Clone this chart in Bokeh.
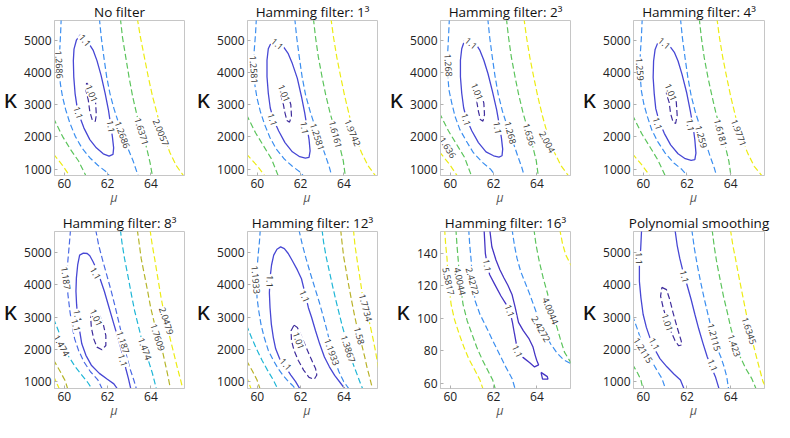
import math
from bokeh.plotting import figure
from bokeh.layouts import gridplot
from bokeh.models import Range1d, FixedTicker, LinearAxis
from bokeh.core.properties import value
from bokeh.embed import file_html
from bokeh.resources import INLINE

# ---------------- data ----------------
TITLES = ["No filter", "Hamming filter: 1³", "Hamming filter: 2³", "Hamming filter: 4³",
          "Hamming filter: 8³", "Hamming filter: 12³", "Hamming filter: 16³", "Polynomial smoothing"]
X_LABEL = "μ"
Y_LABEL = "κ"
X_TICKS = [60, 62, 64]
Y_TICKS = [1000, 2000, 3000, 4000, 5000]
Y_TICKS_16 = [60, 80, 100, 120, 140]
MU_RANGE = (59.55, 65.55)
KAPPA_RANGE_ROW1 = (800, 5630)
KAPPA_RANGE_ROW2 = (786, 5661)
KAPPA_RANGE_16 = (56.8, 153.4)

# Panel 1: No filter
P1_LEVEL = ["1.01", "1.1", "1.2686", "1.2686", "1.6371", "1.6371", "2.0057", "2.0057"]
P1_MU = [
    [61.03, 61.33, 61.45, 61.48, 61.43, 61.30, 61.18, 61.11, 61.00, 61.03],
    [60.74, 60.56, 60.45, 60.42, 60.44, 60.50, 60.59, 60.74, 60.91, 61.18, 61.48, 61.80, 62.07, 62.25, 62.28,
     62.22, 62.13, 62.04, 61.89, 61.70, 61.51, 61.33, 61.11, 60.91, 60.74],
    [59.86, 59.83, 59.79, 59.77, 59.82, 59.92, 60.07, 60.26, 60.51, 60.81, 61.18, 61.55, 61.92, 62.14],
    [61.62, 61.71, 61.83, 61.96, 62.11, 62.29, 62.51, 62.73, 62.96, 63.18, 63.43],
    [62.59, 62.69, 62.84, 62.99, 63.16, 63.37, 63.62, 63.82, 63.96, 64.08],
    [59.50, 59.92, 60.29, 60.66, 61.03],
    [63.37, 63.52, 63.70, 63.88, 64.08, 64.32, 64.59, 64.88, 65.18, 65.55],
    [59.50, 59.92, 60.29],
]
P1_KAPPA = [
    [3682, 3456, 3046, 2687, 2482, 2513, 2790, 3149, 3456, 3682],
    [5179, 5015, 4738, 4379, 3867, 3354, 2944, 2585, 2277, 1918, 1662, 1477, 1405, 1456, 1662,
     2020, 2431, 2841, 3354, 3918, 4379, 4708, 4943, 5118, 5179],
    [5700, 5200, 4687, 4174, 3661, 3251, 2841, 2431, 2020, 1662, 1354, 1118, 923, 750],
    [5700, 5097, 4482, 3867, 3354, 2892, 2431, 2020, 1610, 1251, 750],
    [5700, 5097, 4482, 3867, 3251, 2636, 2123, 1610, 1200, 750],
    [2591, 2020, 1610, 1251, 750],
    [5700, 5097, 4482, 3867, 3251, 2636, 2020, 1508, 1097, 750],
    [1473, 1118, 750],
]
P1_LABEL = ["1.1", "1.1", "1.1", "1.01", "1.2686", "1.2686", "1.6371", "2.0057"]
P1_LABEL_MU = [60.96, 60.66, 62.16, 61.27, 59.77, 62.69, 63.58, 64.47]
P1_LABEL_KAPPA = [5015, 2759, 2328, 3354, 4256, 2072, 2174, 2143]
P1_LABEL_ANGLE = [-50, -72, -82, -68, -87, -70, -73, -68]

# Panel 2: Hamming 1^3
P2_LEVEL = ["1.01", "1.1", "1.2581", "1.2581", "1.6161", "1.6161", "1.9742", "1.9742"]
P2_MU = [
    [61.08, 61.40, 61.55, 61.58, 61.49, 61.37, 61.28, 61.18, 61.05, 61.08],
    [60.63, 60.51, 60.45, 60.45, 60.51, 60.60, 60.74, 60.99, 61.28, 61.62, 61.96, 62.22, 62.39, 62.44, 62.39,
     62.29, 62.19, 62.04, 61.85, 61.62, 61.43, 61.22, 60.99, 60.78, 60.63],
    [59.96, 59.92, 59.86, 59.85, 59.89, 59.99, 60.14, 60.34, 60.59, 60.88, 61.25, 61.62, 61.99, 62.17],
    [61.73, 61.82, 61.94, 62.07, 62.23, 62.44, 62.66, 62.91, 63.15, 63.33, 63.45],
    [62.59, 62.69, 62.82, 62.99, 63.16, 63.36, 63.58, 63.80, 63.97, 64.07],
    [59.50, 59.92, 60.29, 60.66, 60.99],
    [63.40, 63.52, 63.67, 63.85, 64.04, 64.26, 64.51, 64.81, 65.11, 65.50],
    [59.50, 59.99, 60.39],
]
P2_KAPPA = [
    [3549, 3364, 3005, 2646, 2462, 2513, 2749, 3108, 3385, 3549],
    [4923, 4749, 4390, 3877, 3364, 2903, 2564, 2185, 1826, 1538, 1385, 1344, 1364, 1569, 1928,
     2338, 2749, 3262, 3826, 4287, 4595, 4800, 4903, 4943, 4923],
    [5700, 5210, 4697, 4082, 3621, 3210, 2800, 2390, 1979, 1620, 1313, 1087, 903, 750],
    [5700, 5108, 4492, 3877, 3313, 2800, 2338, 1877, 1415, 1056, 750],
    [5700, 5108, 4492, 3877, 3313, 2749, 2236, 1723, 1262, 750],
    [2700, 2133, 1723, 1313, 750],
    [5700, 5108, 4492, 3877, 3262, 2646, 2031, 1518, 1108, 750],
    [1470, 1108, 750],
]
P2_LABEL = ["1.1", "1.1", "1.1", "1.01", "1.2581", "1.2581", "1.6161", "1.9742"]
P2_LABEL_MU = [60.93, 60.71, 62.19, 61.25, 59.85, 62.78, 63.62, 64.41]
P2_LABEL_KAPPA = [4903, 2544, 2287, 3364, 4102, 2010, 2082, 2133]
P2_LABEL_ANGLE = [-40, -72, -82, -68, -86, -72, -75, -68]

# Panel 3: Hamming 2^3
P3_LEVEL = ["1.01", "1.1", "1.268", "1.268", "1.636", "1.636", "2.004", "2.004"]
P3_MU = [
    [61.11, 61.40, 61.55, 61.58, 61.51, 61.39, 61.30, 61.21, 61.08, 61.11],
    [60.66, 60.53, 60.47, 60.47, 60.53, 60.62, 60.76, 61.00, 61.30, 61.65, 62.00, 62.25, 62.39, 62.42,
     62.36, 62.26, 62.14, 61.95, 61.74, 61.55, 61.37, 61.18, 60.96, 60.66],
    [59.96, 59.92, 59.88, 59.88, 59.94, 60.07, 60.22, 60.44, 60.74, 61.06, 61.48, 61.85, 62.14],
    [61.73, 61.82, 61.94, 62.07, 62.22, 62.41, 62.63, 62.88, 63.11, 63.30, 63.43],
    [62.59, 62.69, 62.82, 62.99, 63.16, 63.36, 63.58, 63.80, 63.97, 64.07],
    [59.50, 59.92, 60.29, 60.66, 61.00],
    [63.40, 63.52, 63.67, 63.85, 64.04, 64.26, 64.51, 64.81, 65.11, 65.50],
    [59.50, 59.99, 60.36],
]
P3_KAPPA = [
    [3569, 3415, 3056, 2697, 2492, 2544, 2800, 3159, 3415, 3569],
    [5005, 4749, 4390, 3877, 3364, 2903, 2544, 2185, 1826, 1538, 1415, 1374, 1415, 1620,
     1979, 2390, 2851, 3415, 3979, 4390, 4697, 4903, 4985, 5005],
    [5700, 5108, 4595, 3979, 3467, 3056, 2646, 2236, 1877, 1518, 1210, 1005, 750],
    [5700, 5108, 4492, 3877, 3313, 2800, 2338, 1877, 1415, 1056, 750],
    [5700, 5108, 4492, 3877, 3313, 2749, 2236, 1723, 1262, 750],
    [2750, 2185, 1774, 1364, 750],
    [5700, 5108, 4492, 3877, 3262, 2646, 2031, 1518, 1108, 750],
    [1540, 1128, 750],
]
P3_LABEL = ["1.1", "1.1", "1.1", "1.01", "1.268", "1.268", "1.636", "1.636", "2.004"]
P3_LABEL_MU = [60.96, 60.74, 62.19, 61.25, 59.92, 62.78, 63.65, 59.89, 64.48]
P3_LABEL_KAPPA = [4923, 2544, 2287, 3415, 4236, 2133, 2082, 1672, 1846]
P3_LABEL_ANGLE = [-40, -72, -82, -68, -86, -75, -73, -58, -62]

# Panel 4: Hamming 4^3
P4_LEVEL = ["1.01", "1.1", "1.259", "1.259", "1.6181", "1.6181", "1.9771", "1.9771"]
P4_MU = [
    [61.08, 61.36, 61.51, 61.55, 61.48, 61.36, 61.25, 61.18, 61.06, 61.08],
    [60.66, 60.54, 60.47, 60.45, 60.50, 60.57, 60.71, 60.96, 61.25, 61.59, 61.92, 62.19, 62.36, 62.41,
     62.36, 62.28, 62.16, 61.98, 61.77, 61.59, 61.43, 61.21, 60.96, 60.66],
    [59.95, 59.91, 59.86, 59.85, 59.91, 60.02, 60.19, 60.39, 60.66, 61.00, 61.40, 61.77, 62.07],
    [61.70, 61.79, 61.91, 62.04, 62.19, 62.38, 62.60, 62.84, 63.06, 63.25, 63.37],
    [62.56, 62.66, 62.79, 62.96, 63.14, 63.33, 63.55, 63.76, 63.92, 64.02],
    [59.50, 59.92, 60.29, 60.66, 61.03],
    [63.37, 63.49, 63.64, 63.82, 64.01, 64.23, 64.48, 64.78, 65.08, 65.48],
    [59.50, 59.96, 60.34],
]
P4_KAPPA = [
    [3569, 3426, 3087, 2677, 2420, 2472, 2728, 3087, 3344, 3569],
    [4933, 4728, 4369, 3856, 3344, 2882, 2523, 2113, 1754, 1477, 1323, 1272, 1292, 1497,
     1908, 2318, 2779, 3395, 3959, 4369, 4626, 4831, 4923, 4933],
    [5700, 5087, 4574, 3959, 3446, 3036, 2626, 2215, 1856, 1497, 1190, 985, 750],
    [5700, 5087, 4472, 3856, 3292, 2779, 2318, 1856, 1395, 1036, 750],
    [5700, 5087, 4472, 3856, 3292, 2728, 2215, 1703, 1241, 750],
    [2690, 2113, 1703, 1292, 750],
    [5700, 5087, 4472, 3856, 3241, 2626, 2010, 1497, 1087, 750],
    [1480, 1108, 750],
]
P4_LABEL = ["1.1", "1.1", "1.1", "1.01", "1.259", "1.259", "1.6181", "1.9771"]
P4_LABEL_MU = [60.96, 60.66, 62.16, 61.27, 59.85, 62.66, 63.55, 64.38]
P4_LABEL_KAPPA = [4923, 2420, 2369, 3395, 4113, 2010, 2133, 2133]
P4_LABEL_ANGLE = [-40, -72, -82, -68, -86, -75, -75, -70]

# Panel 5: Hamming 8^3
P5_LEVEL = ["1.01", "1.1", "1.187", "1.187", "1.474", "1.474", "1.7609", "1.7609", "2.0479", "2.0479"]
P5_MU = [
    [61.33, 61.62, 61.80, 61.92, 61.92, 61.74, 61.51, 61.36, 61.25, 61.22, 61.33],
    [62.48, 62.29, 61.99, 61.62, 61.25, 61.00, 60.81, 60.71, 60.62, 60.57, 60.54, 60.56, 60.62, 60.71, 60.88,
     61.06, 61.18, 61.33, 61.51, 61.67, 61.85, 62.07, 62.29, 62.47, 62.62, 62.74, 62.84, 62.96, 63.08],
    [60.29, 60.23, 60.17, 60.11, 60.17, 60.26, 60.36, 60.48, 60.66, 60.91, 61.21, 61.55, 61.77],
    [61.45, 61.59, 61.77, 61.96, 62.17, 62.36, 62.54, 62.72, 62.87, 63.03, 63.21, 63.34],
    [62.59, 62.66, 62.78, 62.93, 63.10, 63.25, 63.40, 63.55, 63.88, 64.07, 64.26],
    [59.50, 59.73, 59.92, 60.22, 60.51, 60.81, 61.11, 61.30],
    [63.37, 63.45, 63.55, 63.70, 63.85, 63.99, 64.17, 64.56, 64.66, 64.76, 64.91],
    [59.50, 59.82, 60.04, 60.17],
    [63.96, 64.04, 64.17, 64.32, 64.47, 64.59, 64.91, 65.06, 65.21, 65.37, 65.48],
    [59.50, 59.79],
]
P5_KAPPA = [
    [3213, 3071, 2785, 2428, 2122, 1989, 2071, 2326, 2683, 2989, 3213],
    [750, 929, 1071, 1255, 1510, 1816, 2173, 2581, 2989, 3397, 3805, 4213, 4621, 4927, 4988,
     4978, 4907, 4723, 4468, 4162, 3805, 3295, 2785, 2377, 2020, 1714, 1408, 1102, 750],
    [5720, 5233, 4774, 4213, 3703, 3193, 2734, 2326, 1969, 1612, 1306, 1051, 750],
    [5720, 5233, 4774, 4315, 3805, 3295, 2785, 2275, 1816, 1408, 1051, 750],
    [5720, 5335, 4825, 4315, 3703, 3193, 2785, 2377, 1663, 1255, 750],
    [2960, 2581, 2173, 1765, 1459, 1204, 949, 750],
    [5720, 5335, 4825, 4315, 3805, 3295, 2785, 1867, 1561, 1255, 750],
    [1680, 1306, 1031, 750],
    [5720, 5335, 4825, 4213, 3601, 3193, 2275, 1867, 1459, 1051, 750],
    [1180, 750],
]
P5_LABEL = ["1.187", "1.1", "1.1", "1.1", "1.01", "1.187", "1.1", "1.474", "1.474", "1.7609", "2.0479"]
P5_LABEL_MU = [60.08, 61.45, 60.63, 60.54, 61.48, 62.72, 62.71, 63.73, 59.88, 64.32, 64.72]
P5_LABEL_KAPPA = [4213, 4366, 3040, 2754, 2989, 2224, 1663, 2020, 2122, 2377, 2887]
P5_LABEL_ANGLE = [-82, -60, -80, -75, -65, -72, -72, -70, -60, -72, -72]

# Panel 6: Hamming 12^3
P6_LEVEL = ["1.01", "1.1", "1.1933", "1.1933", "1.3867", "1.3867", "1.58", "1.58", "1.7734", "1.7734"]
P6_MU = [
    [61.70, 61.85, 61.99, 62.22, 62.48, 62.69, 62.75, 62.63, 62.39, 62.14, 61.89, 61.70, 61.58, 61.56, 61.70],
    [61.99, 61.77, 61.55, 61.30, 61.03, 60.85, 60.74, 60.65, 60.59, 60.56, 60.59, 60.66, 60.76, 60.91, 61.08,
     61.25, 61.43, 61.62, 61.85, 62.04, 62.22, 62.36, 62.51, 62.69, 62.88, 63.10, 63.33, 63.58, 63.85, 64.07],
    [60.14, 60.10, 60.04, 59.96, 59.99, 60.07, 60.17, 60.32, 60.51, 60.74, 60.96, 61.18, 61.40, 61.62, 61.80],
    [61.92, 62.07, 62.25, 62.45, 62.66, 62.87, 63.06, 63.22, 63.37, 63.55, 63.77, 63.99, 64.26],
    [62.99, 63.06, 63.18, 63.33, 63.48, 63.62, 63.77, 63.92, 64.07, 64.36, 64.59, 64.76, 64.88],
    [59.50, 59.73, 59.96, 60.22, 60.47, 60.74, 60.96],
    [63.85, 63.91, 63.99, 64.11, 64.23, 64.36, 64.48, 64.59, 64.85, 64.96, 65.06, 65.18, 65.33],
    [59.50, 59.77, 59.99, 60.14],
    [64.44, 64.51, 64.62, 64.74, 64.85, 65.18, 65.33, 65.45, 65.60],
    [59.50, 59.73],
]
P6_KAPPA = [
    [2754, 2683, 2479, 2122, 1714, 1408, 1204, 1071, 1133, 1357, 1663, 1969, 2275, 2581, 2754],
    [750, 1000, 1204, 1459, 1714, 2020, 2377, 2785, 3295, 3754, 4213, 4621, 4927, 5111, 5182,
     5131, 4978, 4754, 4468, 4193, 3703, 3295, 2989, 2581, 2173, 1765, 1459, 1184, 949, 750],
    [5720, 5335, 4927, 4213, 3601, 3193, 2785, 2377, 1969, 1663, 1408, 1204, 1031, 888, 750],
    [5720, 5284, 4825, 4366, 3907, 3448, 2989, 2581, 2173, 1714, 1306, 1000, 750],
    [5720, 5335, 4876, 4417, 3958, 3550, 3142, 2734, 2377, 1663, 1255, 949, 750],
    [2760, 2377, 2020, 1663, 1357, 1051, 750],
    [5720, 5335, 4876, 4417, 3958, 3499, 3091, 2734, 2071, 1765, 1459, 1153, 750],
    [1660, 1337, 1051, 750],
    [5720, 5233, 4723, 4213, 3703, 2836, 2377, 1969, 1400],
    [1160, 750],
]
P6_LABEL = ["1.1933", "1.1", "1.1", "1.01", "1.1", "1.1933", "1.3867", "1.58", "1.7734"]
P6_LABEL_MU = [59.94, 60.59, 62.19, 61.92, 61.32, 63.45, 64.20, 64.72, 65.01]
P6_LABEL_KAPPA = [4162, 4111, 3652, 2275, 1541, 1918, 2020, 2428, 3295]
P6_LABEL_ANGLE = [-85, -92, -68, -70, -48, -70, -72, -75, -75]

# Panel 7: Hamming 16^3 (kappa 60..140)
P7_LEVEL = ["1.1", "1.1", "2.4272", "2.4272", "4.0044", "4.0044", "5.5817", "5.5817"]
P7_MU = [
    [61.56, 61.62, 61.71, 61.82, 62.04, 62.34, 62.56, 62.75, 62.87, 62.96, 63.11, 63.37, 63.67, 63.89, 64.08,
     63.99, 63.92, 63.82, 63.64, 63.37, 63.15, 63.00, 62.85, 62.66, 62.48, 62.29, 62.11, 61.92, 61.82],
    [64.19, 64.48, 64.51, 64.26, 64.19],
    [60.85, 60.90, 60.97, 61.03, 61.15, 61.37, 61.67, 61.96, 62.26, 62.56, 62.85, 63.03],
    [62.85, 62.96, 63.08, 63.25, 63.46, 63.67, 63.89, 64.11, 64.34, 64.63, 64.93, 65.22, 65.60],
    [60.26, 60.31, 60.36, 60.44, 60.59, 60.78, 61.00, 61.22, 61.49, 61.74, 61.96, 62.11],
    [63.86, 63.96, 64.11, 64.29, 64.48, 64.68, 64.88, 65.08, 65.27, 65.60],
    [59.74, 59.79, 59.85, 59.91, 60.04, 60.19, 60.41, 60.63, 60.85, 61.12, 61.37, 61.55],
    [65.05, 65.18, 65.33, 65.60],
]
P7_KAPPA = [
    [155, 140.0, 132.5, 126.8, 121.2, 113.7, 109.0, 104.6, 97.5, 90.8, 79.8, 75.8, 72.6, 70.1, 71.3,
     74.2, 77.2, 82.3, 87.3, 92.4, 97.5, 106.6, 114.7, 120.3, 124.8, 129.9, 135.9, 144.0, 155],
    [66.7, 64.1, 62.6, 62.6, 66.7],
    [155, 145.1, 134.9, 121.8, 110.6, 102.5, 94.4, 86.3, 78.2, 70.1, 63.0, 55],
    [155, 145.1, 137.0, 128.9, 121.8, 114.7, 106.6, 98.5, 91.4, 84.3, 78.6, 74.6, 71.8],
    [155, 145.1, 137.0, 123.8, 108.6, 98.5, 90.4, 82.3, 74.2, 67.7, 62.0, 55],
    [155, 145.1, 134.9, 124.8, 115.7, 105.6, 96.5, 87.3, 79.2, 72],
    [155, 145.1, 137.0, 122.8, 108.6, 99.5, 90.4, 82.3, 75.2, 68.5, 62.0, 55],
    [155, 146.0, 139.0, 132],
]
P7_LABEL = ["5.5817", "4.0044", "2.4272", "1.1", "1.1", "1.1", "2.4272", "4.0044"]
P7_LABEL_MU = [59.92, 60.45, 61.03, 61.71, 62.75, 63.11, 64.19, 64.63]
P7_LABEL_KAPPA = [122.8, 122.8, 122.8, 132.5, 104.6, 79.8, 93.4, 104.6]
P7_LABEL_ANGLE = [-78, -78, -75, -80, -70, -66, -60, -68]

# Panel 8: Polynomial smoothing
P8_LEVEL = ["1.01", "1.1", "1.1", "1.2115", "1.2115", "1.423", "1.423", "1.6345"]
P8_MU = [
    [60.85, 61.06, 61.21, 61.36, 61.55, 61.73, 61.77, 61.62, 61.45, 61.25, 61.06, 60.91, 60.79, 60.85],
    [59.92, 59.88, 59.82, 59.82, 59.89, 59.99, 60.14, 60.32, 60.51, 60.76, 61.08, 61.40, 61.70, 61.88],
    [61.45, 61.55, 61.67, 61.80, 62.00, 62.19, 62.36, 62.54, 62.74, 62.93, 63.11, 63.30, 63.48],
    [59.50, 59.70, 59.88, 60.11, 60.36, 60.62, 60.85, 61.03],
    [62.22, 62.34, 62.47, 62.62, 62.78, 62.96, 63.14, 63.33, 63.55, 63.70, 63.82, 63.91],
    [63.15, 63.25, 63.37, 63.52, 63.67, 63.85, 64.02, 64.22, 64.44, 64.69, 64.96, 65.18],
    [59.50, 59.73, 59.89, 59.99],
    [63.99, 64.10, 64.22, 64.36, 64.51, 64.66, 64.81, 64.99, 65.18, 65.36, 65.48, 65.60],
]
P8_KAPPA = [
    [3927, 3856, 3550, 3142, 2683, 2275, 2142, 2112, 2275, 2581, 2938, 3295, 3652, 3927],
    [5720, 5131, 4621, 4111, 3601, 3091, 2683, 2326, 2020, 1714, 1459, 1235, 1051, 750],
    [5720, 5233, 4825, 4468, 4009, 3550, 3091, 2632, 2173, 1765, 1459, 1153, 750],
    [3060, 2683, 2326, 1969, 1663, 1357, 1102, 750],
    [5720, 5131, 4621, 4111, 3601, 3091, 2581, 2122, 1765, 1459, 1153, 750],
    [5720, 5182, 4672, 4162, 3652, 3142, 2632, 2173, 1765, 1408, 1102, 750],
    [1540, 1275, 1051, 750],
    [5720, 5233, 4825, 4315, 3805, 3295, 2785, 2275, 1765, 1306, 1000, 850],
]
P8_LABEL = ["1.1", "1.1", "1.01", "1.1", "1.1", "1.2115", "1.2115", "1.423", "1.6345"]
P8_LABEL_MU = [59.81, 60.51, 61.11, 61.89, 63.18, 60.00, 63.25, 64.17, 64.85]
P8_LABEL_KAPPA = [4825, 2173, 2836, 4264, 1510, 1969, 2377, 2122, 2581]
P8_LABEL_ANGLE = [-88, -62, -72, -75, -68, -58, -75, -72, -72]

# ---------------- style ----------------
PALETTES = {
    0: ["#3f2d9c", "#4747d4", "#3c8ff0", "#5cc45c", "#ecec14"],
    1: ["#3f2d9c", "#4747d4", "#3c8ff0", "#5cc45c", "#ecec14"],
    2: ["#3f2d9c", "#4747d4", "#3c8ff0", "#5cc45c", "#ecec14"],
    3: ["#3f2d9c", "#4747d4", "#3c8ff0", "#5cc45c", "#ecec14"],
    4: ["#3f2d9c", "#4747d4", "#4b6ae4", "#1fb6d6", "#b5b52a", "#ecec14"],
    5: ["#3f2d9c", "#4747d4", "#3c8cec", "#1fb6d6", "#b9b22a", "#ecec14"],
    6: ["#4535c4", "#3c8ff0", "#5cc45c", "#ecec14"],
    7: ["#3f2d9c", "#4747d4", "#3c8ff0", "#5cc45c", "#ecec14"],
}
FRAME_COLOR = "#c6c6c6"
FONT = "Open Sans"
MU_NAME_TICK = 62.3  # where the axis name sits under each panel

PANELS = [
    (P1_LEVEL, P1_MU, P1_KAPPA, P1_LABEL, P1_LABEL_MU, P1_LABEL_KAPPA, P1_LABEL_ANGLE),
    (P2_LEVEL, P2_MU, P2_KAPPA, P2_LABEL, P2_LABEL_MU, P2_LABEL_KAPPA, P2_LABEL_ANGLE),
    (P3_LEVEL, P3_MU, P3_KAPPA, P3_LABEL, P3_LABEL_MU, P3_LABEL_KAPPA, P3_LABEL_ANGLE),
    (P4_LEVEL, P4_MU, P4_KAPPA, P4_LABEL, P4_LABEL_MU, P4_LABEL_KAPPA, P4_LABEL_ANGLE),
    (P5_LEVEL, P5_MU, P5_KAPPA, P5_LABEL, P5_LABEL_MU, P5_LABEL_KAPPA, P5_LABEL_ANGLE),
    (P6_LEVEL, P6_MU, P6_KAPPA, P6_LABEL, P6_LABEL_MU, P6_LABEL_KAPPA, P6_LABEL_ANGLE),
    (P7_LEVEL, P7_MU, P7_KAPPA, P7_LABEL, P7_LABEL_MU, P7_LABEL_KAPPA, P7_LABEL_ANGLE),
    (P8_LEVEL, P8_MU, P8_KAPPA, P8_LABEL, P8_LABEL_MU, P8_LABEL_KAPPA, P8_LABEL_ANGLE),
]


def make_panel(idx):
    levels, mus, kappas, ltext, lmu, lkappa, langle = PANELS[idx]
    row = idx // 4
    col = idx % 4
    if idx == 6:
        yr, yt = KAPPA_RANGE_16, Y_TICKS_16
    elif row == 0:
        yr, yt = KAPPA_RANGE_ROW1, Y_TICKS
    else:
        yr, yt = KAPPA_RANGE_ROW2, Y_TICKS
    left = 50 if col == 3 else 49
    width = 194 if col == 3 else 193
    if row == 0:
        height, top, bottom = 211, 18, 36
    else:
        height, top, bottom = 211, 20, 34
    p = figure(width=width, height=height, x_range=Range1d(*MU_RANGE), y_range=Range1d(*yr),
               output_backend="svg", toolbar_location=None, tools="",
               min_border_left=left, min_border_right=9, min_border_top=top, min_border_bottom=bottom,
               background_fill_color="white", border_fill_color="white")

    p.title.text = TITLES[idx]
    p.title.align = "center"
    p.title.text_font = FONT
    p.title.text_font_size = "13.5px"
    p.title.text_font_style = "normal"
    p.title.text_color = "#111111"
    p.title.standoff = 0
    p.title.offset = 0

    p.grid.visible = False
    p.outline_line_color = FRAME_COLOR
    p.outline_line_width = 1

    xax = p.xaxis[0]
    yax = p.yaxis[0]
    xax.ticker = FixedTicker(ticks=X_TICKS)
    yax.ticker = FixedTicker(ticks=yt)
    xax.axis_label = None
    for ax in (xax, yax):
        ax.axis_line_color = FRAME_COLOR
        ax.major_tick_line_color = "#b0b0b0"
        ax.major_tick_in = 3
        ax.major_tick_out = 0
        ax.minor_tick_in = 0
        ax.minor_tick_out = 0
        ax.major_label_text_font = FONT
        ax.major_label_text_font_size = "12px"
        ax.major_label_text_color = "#222222"
        ax.major_label_standoff = 3

    # y axis name
    yax.axis_label = Y_LABEL
    yax.axis_label_orientation = "horizontal"
    yax.axis_label_text_font = FONT
    yax.axis_label_text_font_size = "26px"
    yax.axis_label_text_font_style = "normal"
    yax.axis_label_text_color = "#111111"
    yax.axis_label_standoff = 4

    # x axis name, drawn as a second (tick-less) axis row under the tick labels
    name_axis = LinearAxis(ticker=FixedTicker(ticks=[MU_NAME_TICK]),
                           major_label_overrides={MU_NAME_TICK: X_LABEL},
                           axis_label=None,
                           axis_line_color=None, major_tick_line_color=None,
                           minor_tick_line_color=None, major_tick_in=0, major_tick_out=0,
                           minor_tick_in=0, minor_tick_out=0, major_label_standoff=-2,
                           major_label_text_font=FONT, major_label_text_font_size="12px",
                           major_label_text_font_style="italic", major_label_text_color="#555555")
    p.add_layout(name_axis, "below")

    pal = PALETTES[idx]
    uniq = sorted(set(levels), key=float)
    for lv, xs, ys in zip(levels, mus, kappas):
        color = pal[uniq.index(lv)]
        if lv == "1.1":
            p.line(xs, ys, line_color=color, line_width=1.3)
        else:
            p.line(xs, ys, line_color=color, line_width=1.2, line_dash="6 3")

    p.text(x=lmu, y=lkappa, text=ltext, angle=[math.radians(a) for a in langle],
           text_font=value(FONT), text_font_size="9px", text_color="#333333",
           text_align="center", text_baseline="middle",
           background_fill_color="white", padding=1)
    return p


figs = [make_panel(i) for i in range(8)]
grid = gridplot([figs[:4], figs[4:]], toolbar_location=None)
open("out.html", "w").write(file_html(grid, INLINE))
